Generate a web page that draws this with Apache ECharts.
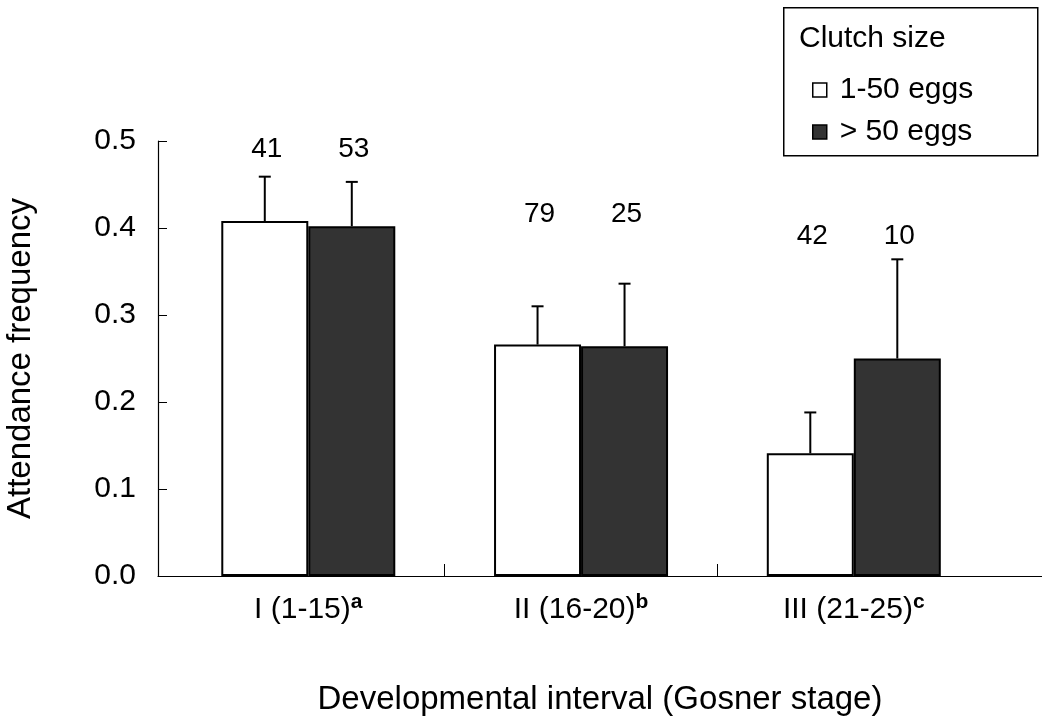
<!DOCTYPE html>
<html><head><meta charset="utf-8">
<script src="https://cdn.jsdelivr.net/npm/echarts@6/dist/echarts.min.js"></script>
<style>html,body{margin:0;padding:0;background:#fff}#c{width:1042px;height:722px}</style>
</head><body><div id="c"></div>
<script>
// ---- data ----
const categories = ['I (1-15)', 'II (16-20)', 'III (21-25)'];
const categorySup = ['a', 'b', 'c'];
const seriesNames = ['1-50 eggs', '> 50 eggs'];
const smallMean = [0.408, 0.266, 0.141];
const smallSE = [0.051, 0.044, 0.047];
const largeMean = [0.402, 0.264, 0.250];
const largeSE = [0.051, 0.072, 0.114];
const smallN = [41, 79, 42];
const largeN = [53, 25, 10];
const yTicks = [0, 0.1, 0.2, 0.3, 0.4, 0.5];
const legendTitle = 'Clutch size';
const xTitle = 'Developmental interval (Gosner stage)';
const yTitle = 'Attendance frequency';

// ---- layout / style ----
const FONT = '"Liberation Sans", Arial, Helvetica, sans-serif';
const BAR_W = 87;
const nLabelLevel = [0.49, 0.416, 0.39]; // height of sample-size annotations per group

function errRenderer(offset) {
  return function (params, api) {
    const x = api.value(0);
    const base = api.coord([x, api.value(1)]);
    const top = api.coord([x, api.value(2)]);
    const lbl = api.coord([x, api.value(4)]);
    const cx = base[0] + offset;
    return {
      type: 'group',
      children: [
        { type: 'line', shape: { x1: cx, y1: base[1], x2: cx, y2: top[1] }, style: { stroke: '#000', lineWidth: 2 } },
        { type: 'line', shape: { x1: cx - 6, y1: top[1], x2: cx + 6, y2: top[1] }, style: { stroke: '#000', lineWidth: 2 } },
        { type: 'text', x: cx + 2, y: lbl[1], style: { text: String(api.value(3)), fill: '#000', font: '28px ' + FONT, align: 'center', verticalAlign: 'middle' } }
      ]
    };
  };
}

const chart = echarts.init(document.getElementById('c'), null, { renderer: 'canvas' });
const option = {
  backgroundColor: '#fff',
  animation: false,
  textStyle: { fontFamily: FONT, color: '#000' },
  title: {
    text: legendTitle, left: 799, top: 23, padding: 0,
    textStyle: { fontSize: 30, fontWeight: 'normal', color: '#000', fontFamily: FONT, lineHeight: 32 }
  },
  legend: {
    orient: 'vertical', left: 812, top: 74, padding: 0, icon: 'rect',
    itemWidth: 14, itemHeight: 14, itemGap: 10, selectedMode: false,
    data: seriesNames,
    itemStyle: { borderWidth: 1.5, borderColor: '#000' },
    textStyle: { fontSize: 30, color: '#000', fontFamily: FONT, lineHeight: 32, padding: [0, 0, 0, 8] }
  },
  graphic: [{
    type: 'rect', left: 783, top: 7, z: -1,
    shape: { width: 254, height: 148 },
    style: { fill: '#fff', stroke: '#000', lineWidth: 1.5 }
  }],
  grid: { left: 158, right: 0, top: 141, bottom: 146, containLabel: false, outerBoundsMode: 'none' },
  xAxis: {
    type: 'value', min: -0.551, max: 2.69,
    axisLine: { show: true, onZero: false, lineStyle: { color: '#000', width: 1.2 } },
    axisTick: { show: true, inside: true, length: 12, customValues: [0.5, 1.5], lineStyle: { color: '#000', width: 1 } },
    axisLabel: {
      customValues: categories.map((c, i) => i),
      margin: 16,
      formatter: v => '{n|' + categories[Math.round(v)] + '}{s|' + categorySup[Math.round(v)] + '}',
      rich: {
        n: { fontSize: 30, color: '#000', fontFamily: FONT, lineHeight: 36 },
        s: { fontSize: 21, fontWeight: 'bold', color: '#000', fontFamily: FONT, verticalAlign: 'top', lineHeight: 27 }
      }
    },
    splitLine: { show: false },
    name: xTitle, nameLocation: 'middle', nameGap: 107,
    nameTextStyle: { fontSize: 33, color: '#000', fontFamily: FONT }
  },
  yAxis: {
    type: 'value', min: yTicks[0], max: yTicks[yTicks.length - 1], interval: 0.1,
    axisLine: { show: true, onZero: false, lineStyle: { color: '#000', width: 1.2 } },
    axisTick: { show: true, inside: true, length: 9, lineStyle: { color: '#000', width: 1 } },
    axisLabel: { fontSize: 30, color: '#000', fontFamily: FONT, margin: 22, formatter: v => v.toFixed(1) },
    splitLine: { show: false },
    name: yTitle, nameLocation: 'middle', nameGap: 121,
    nameTextStyle: { fontSize: 33, color: '#000', fontFamily: FONT }
  },
  series: [
    {
      name: seriesNames[0], type: 'bar', barWidth: BAR_W, barGap: '0%',
      itemStyle: { color: '#fff', borderColor: '#000', borderWidth: 2 },
      data: smallMean.map((v, i) => [i, v])
    },
    {
      name: seriesNames[1], type: 'bar', barWidth: BAR_W, barGap: '0%',
      itemStyle: { color: '#333333', borderColor: '#000', borderWidth: 2 },
      data: largeMean.map((v, i) => [i, v])
    },
    {
      name: 'err-small', type: 'custom', clip: false, z: 3,
      renderItem: errRenderer(-BAR_W / 2),
      data: smallMean.map((v, i) => [i, v, v + smallSE[i], smallN[i], nLabelLevel[i]])
    },
    {
      name: 'err-large', type: 'custom', clip: false, z: 3,
      renderItem: errRenderer(BAR_W / 2),
      data: largeMean.map((v, i) => [i, v, v + largeSE[i], largeN[i], nLabelLevel[i]])
    }
  ]
};
chart.setOption(option);
</script>
</body></html>
